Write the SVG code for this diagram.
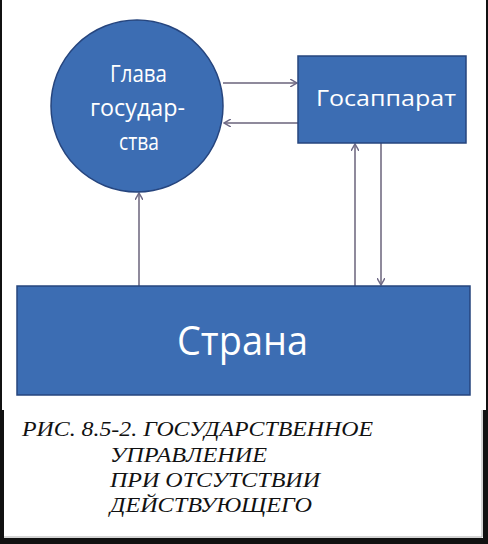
<svg xmlns="http://www.w3.org/2000/svg" width="488" height="544" viewBox="0 0 488 544">
<style>
.node{fill:#3c6db3;stroke:#26457e;stroke-width:1.5}
.lbl{font-family:"Open Sans","Noto Sans",sans-serif;fill:#ffffff;}
.conn{stroke:#8f8a9c;stroke-width:2;fill:none}
.cap{font-family:"Liberation Serif",serif;font-style:italic;font-size:21px;fill:#111}
</style>
<defs>
<marker id="ah" markerWidth="8" markerHeight="8" refX="7" refY="4" orient="auto" markerUnits="userSpaceOnUse">
<path d="M0,0 L7,4 L0,8" fill="none" stroke="#6f6a86" stroke-width="1.5"/>
</marker>
</defs>
<rect x="0" y="0" width="488" height="544" fill="#ffffff"/>
<!-- frame -->
<rect x="0" y="0" width="2" height="544" fill="#111"/>
<rect x="0" y="410" width="4" height="134" fill="#111"/>
<rect x="486" y="0" width="2" height="544" fill="#111"/>
<rect x="483" y="410" width="5" height="134" fill="#111"/>
<rect x="0" y="538" width="488" height="6" fill="#111"/>
<line x1="4" y1="537" x2="482" y2="537" stroke="#aaa" stroke-width="1"/>
<line x1="482" y1="410" x2="482" y2="537" stroke="#aaa" stroke-width="1"/>
<g id="connectors">
<line class="conn" x1="223" y1="83" x2="297" y2="83" marker-end="url(#ah)"/>
<line class="conn" x1="298" y1="123" x2="224" y2="123" marker-end="url(#ah)"/>
<line class="conn" x1="139" y1="286" x2="139" y2="193" marker-end="url(#ah)"/>
<line class="conn" x1="355" y1="286" x2="355" y2="144" marker-end="url(#ah)"/>
<line class="conn" x1="381" y1="143" x2="381" y2="285" marker-end="url(#ah)"/>
</g>
<g id="glava">
<circle class="node" cx="137" cy="106" r="86"/>
<text class="lbl" font-size="24" x="110" y="82" textLength="57" lengthAdjust="spacingAndGlyphs">Глава</text>
<text class="lbl" font-size="24" x="90" y="116" textLength="95" lengthAdjust="spacingAndGlyphs">государ-</text>
<text class="lbl" font-size="24" x="119" y="150" textLength="40" lengthAdjust="spacingAndGlyphs">ства</text>
</g>
<g id="gosapparat">
<rect class="node" x="298" y="56" width="168" height="87"/>
<text class="lbl" font-size="21" x="316" y="106" textLength="140" lengthAdjust="spacingAndGlyphs">Госаппарат</text>
</g>
<g id="strana">
<rect class="node" x="17" y="286" width="453" height="109"/>
<text class="lbl" font-size="40" x="177" y="355" textLength="131" lengthAdjust="spacingAndGlyphs">Страна</text>
</g>
<g id="caption">
<text class="cap" x="22" y="436" textLength="351" lengthAdjust="spacingAndGlyphs">РИС. 8.5-2. ГОСУДАРСТВЕННОЕ</text>
<text class="cap" x="110" y="462" textLength="157" lengthAdjust="spacingAndGlyphs">УПРАВЛЕНИЕ</text>
<text class="cap" x="110" y="487" textLength="210" lengthAdjust="spacingAndGlyphs">ПРИ ОТСУТСТВИИ</text>
<text class="cap" x="110" y="512" textLength="202" lengthAdjust="spacingAndGlyphs">ДЕЙСТВУЮЩЕГО</text>
</g>
</svg>
